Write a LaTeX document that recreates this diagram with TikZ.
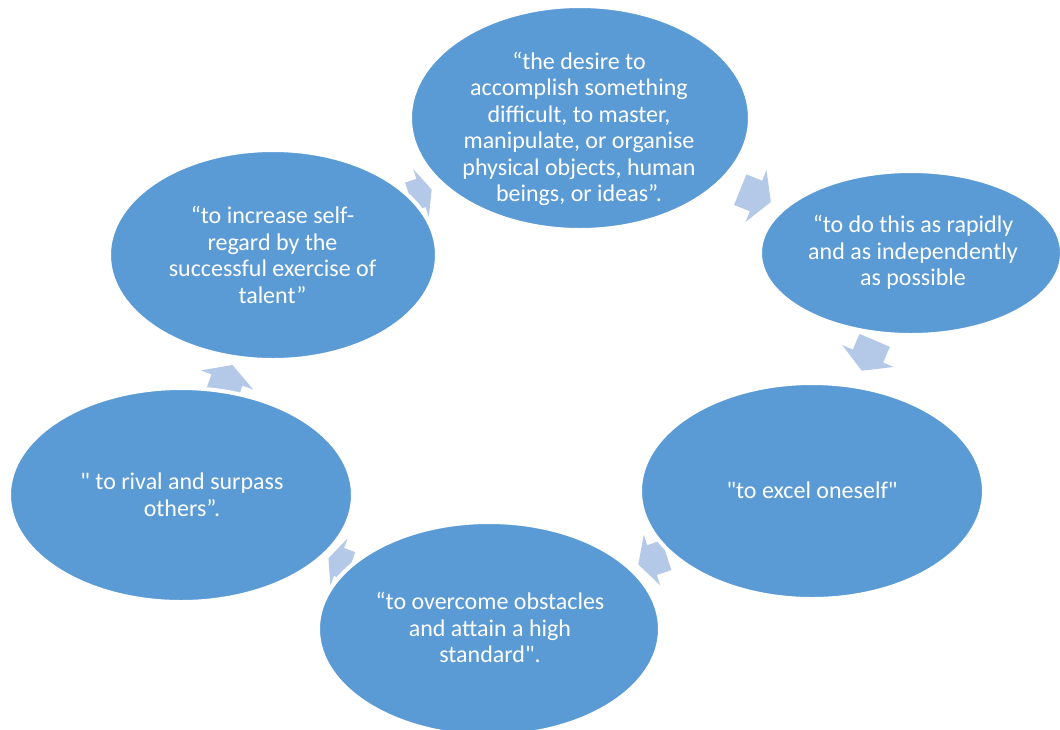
\documentclass[tikz,border=0pt]{standalone}
\usepackage{fontspec}
\newfontfamily\cyclefont{Carlito}
\usetikzlibrary{shapes.geometric}
\definecolor{cycleblue}{HTML}{5B9BD5}
\definecolor{arrowblue}{HTML}{B4C9E8}
\tikzset{
  cyclenode/.style={ellipse, fill=cycleblue, draw=white, line width=4pt, inner sep=0pt},
  cycletext/.style={text=white, align=center, inner sep=0pt,
    font=\cyclefont\fontsize{24pt}{26.5pt}\selectfont},
  arrowfill/.style={fill=arrowblue}
}
% block arrow centred on a named coordinate, turned clockwise by #4 degrees,
% stretched by #5 along its length and #6 across it
\newcommand{\blockarrow}[6]{%
  \coordinate (#1) at (#2,#3);
  \fill[arrowfill, shift={(#1)}, rotate=-#4, xscale=#5, yscale=#6]
    (-17,-16.5) -- (0,-16.5) -- (0,-28) -- (16,0) -- (0,28) -- (0,16.5) -- (-17,16.5) -- cycle;
}
\begin{document}
\begin{tikzpicture}[x=1pt, y=-1pt]
  \fill[white] (0,0) rectangle (1060,729);
  \useasboundingbox (0,0) rectangle (1060,729);

  % arrows between the stages (drawn first, the ellipses sit on top)
  \blockarrow{a1}{756}{196}{22}{1}{1}
  \blockarrow{a2}{868}{356}{113}{1}{1}
  \blockarrow{a3}{652}{560}{162}{0.9}{0.95}
  \blockarrow{a4}{339}{562}{200}{0.7}{0.9}
  \blockarrow{a5}{227}{380}{290}{1}{1}
  \blockarrow{a6}{421}{193}{342}{0.7}{0.9}

  % stages
  \node[cyclenode, minimum width=340pt, minimum height=224pt] (e1) at (580,118) {};
  \node[cyclenode, minimum width=302pt, minimum height=164pt] (e2) at (911,253) {};
  \node[cyclenode, minimum width=344pt, minimum height=216pt] (e3) at (812,491) {};
  \node[cyclenode, minimum width=342pt, minimum height=214pt] (e4) at (489,629) {};
  \node[cyclenode, minimum width=344pt, minimum height=214pt] (e5) at (181,495) {};
  \node[cyclenode, minimum width=328pt, minimum height=210pt] (e6) at (273,255) {};

  % texts
  \node[cycletext] (t1) at (579,129) {“the desire to\\accomplish something\\difficult, to master,\\manipulate, or organise\\physical objects, human\\beings, or ideas”.};
  \node[cycletext] (t2) at (913,252.5) {“to do this as rapidly\\and as independently\\as possible};
  \node[cycletext] (t3) at (812,490) {"to excel oneself"};
  \node[cycletext] (t4) at (490,627.5) {“to overcome obstacles\\and attain a high\\standard".};
  \node[cycletext] (t5) at (182,495) {" to rival and surpass\\others”.};
  \node[cycletext] (t6) at (272.5,255) {“to increase self-\\regard by the\\successful exercise of\\talent”};
\end{tikzpicture}
\end{document}
